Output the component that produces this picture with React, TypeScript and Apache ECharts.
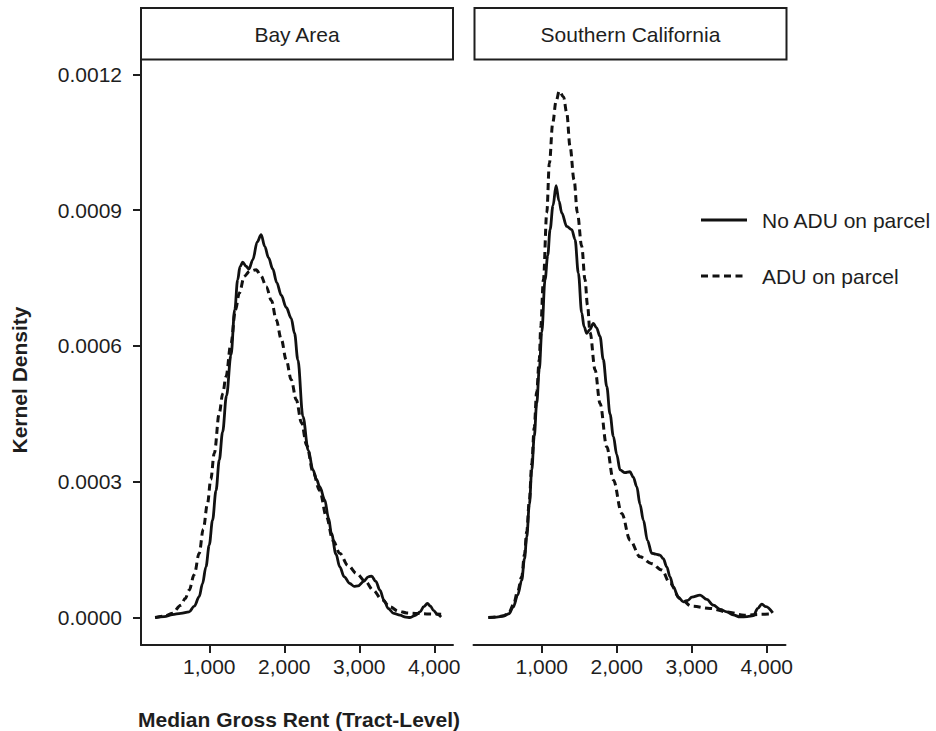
import React, { useEffect, useRef } from "react";
import * as echarts from "echarts";

const panels = ["Bay Area", "Southern California"];
const seriesNames = ["No ADU on parcel", "ADU on parcel"];
const xTicks = [1000, 2000, 3000, 4000];
const yTicks = [0, 0.0003, 0.0006, 0.0009, 0.0012];
const xTitle = "Median Gross Rent (Tract-Level)";
const yTitle = "Kernel Density";

// Bay Area, no ADU on parcel
const bayNoAdu: [number, number][] = [
  [277, 0], [400, 0.000002], [509, 0.0000066], [620, 0.000009], [732, 0.0000124],
  [800, 0.000025], [866, 0.000046], [910, 0.000075], [956, 0.000112], [1000, 0.00016],
  [1044, 0.000215], [1090, 0.00028], [1134, 0.000348], [1178, 0.00041], [1230, 0.00049],
  [1290, 0.00058], [1340, 0.00068], [1379, 0.000746], [1410, 0.000775], [1446, 0.000785],
  [1490, 0.000776], [1530, 0.00077], [1580, 0.00079], [1640, 0.00083], [1692, 0.000846],
  [1740, 0.00082], [1790, 0.000795], [1847, 0.00077], [1900, 0.00074], [1960, 0.000712],
  [2027, 0.000685], [2093, 0.000661], [2137, 0.000628], [2182, 0.000569], [2249, 0.000444],
  [2320, 0.00037], [2383, 0.000326], [2430, 0.000305], [2473, 0.000289], [2540, 0.00026],
  [2590, 0.00022], [2629, 0.000186], [2690, 0.00014], [2740, 0.000112], [2800, 0.00009],
  [2874, 0.0000752], [2930, 0.000069], [2985, 0.00007], [3060, 0.00008], [3120, 0.00009],
  [3164, 0.0000914], [3220, 0.00008], [3276, 0.0000604], [3330, 0.000038], [3387, 0.0000199],
  [3460, 0.000009], [3543, 0.0000051], [3620, 0.000001], [3677, 0], [3750, 0.000005],
  [3811, 0.0000124], [3860, 0.000024], [3909, 0.000031], [3950, 0.000025], [3989, 0.000016],
  [4040, 0.000007], [4092, 0.0000013],
];

// Bay Area, ADU on parcel
const bayAdu: [number, number][] = [
  [280, 0], [400, 0.000003], [509, 0.0000095], [621, 0.0000272], [680, 0.000042],
  [732, 0.0000604], [800, 0.000095], [866, 0.000142], [920, 0.000195], [977, 0.000252],
  [1020, 0.000305], [1067, 0.000363], [1134, 0.000452], [1180, 0.000495], [1223, 0.000532],
  [1290, 0.000606], [1350, 0.00068], [1401, 0.000717], [1468, 0.000754], [1540, 0.000765],
  [1625, 0.000768], [1690, 0.000755], [1759, 0.000731], [1830, 0.0007], [1893, 0.000658],
  [1960, 0.000615], [2027, 0.000569], [2093, 0.000525], [2160, 0.000481], [2230, 0.00043],
  [2300, 0.00038], [2383, 0.000322], [2473, 0.00028], [2562, 0.000223], [2650, 0.00017],
  [2740, 0.000142], [2850, 0.000115], [2964, 0.0000973], [3080, 0.00008], [3186, 0.0000604],
  [3300, 0.00004], [3410, 0.0000235], [3520, 0.000014], [3633, 0.0000102], [3750, 0.000009],
  [3900, 0.000008], [4092, 0.0000073],
];

// Southern California, no ADU on parcel
const socalNoAdu: [number, number][] = [
  [288, 0], [400, 0.000001], [488, 0.000003], [560, 0.000008], [621, 0.0000235],
  [680, 0.00005], [733, 0.0000825], [770, 0.00013], [800, 0.000178], [835, 0.00025],
  [867, 0.000326], [900, 0.0004], [933, 0.000473], [967, 0.000548], [1000, 0.00063],
  [1044, 0.000746], [1080, 0.0008], [1111, 0.000857], [1150, 0.00091], [1191, 0.000954],
  [1230, 0.00092], [1267, 0.000894], [1333, 0.000864], [1400, 0.000857], [1444, 0.000835],
  [1488, 0.000761], [1533, 0.000673], [1565, 0.000642], [1600, 0.000628], [1640, 0.000636],
  [1688, 0.00065], [1730, 0.00064], [1777, 0.000621], [1820, 0.00057], [1867, 0.00051],
  [1910, 0.00045], [1955, 0.0004], [2000, 0.00036], [2044, 0.000326], [2110, 0.00032],
  [2177, 0.000322], [2220, 0.00031], [2267, 0.000289], [2310, 0.00025], [2355, 0.000215],
  [2410, 0.00017], [2467, 0.000142], [2520, 0.00014], [2577, 0.000138], [2620, 0.00013],
  [2667, 0.000112], [2710, 0.00009], [2755, 0.0000677], [2820, 0.000045], [2888, 0.0000345],
  [2950, 0.000038], [3000, 0.000045], [3111, 0.0000493], [3200, 0.00004], [3288, 0.0000272],
  [3380, 0.000018], [3467, 0.0000124], [3550, 0.000006], [3644, 0.0000013], [3740, 0.000002],
  [3822, 0.000004], [3880, 0.00002], [3933, 0.0000294], [3990, 0.000024], [4080, 0.0000102],
];

// Southern California, ADU on parcel
const socalAdu: [number, number][] = [
  [288, 0], [400, 0.000001], [488, 0.000004], [560, 0.00001], [621, 0.000028],
  [680, 0.000058], [733, 0.00009], [770, 0.00014], [800, 0.00019], [835, 0.00026],
  [867, 0.00034], [900, 0.00042], [933, 0.0005], [967, 0.00057], [987, 0.000643],
  [1022, 0.000746], [1067, 0.000894], [1102, 0.001004], [1147, 0.001093], [1190, 0.00114],
  [1235, 0.001163], [1290, 0.00115], [1333, 0.001115], [1377, 0.001041], [1431, 0.000967],
  [1475, 0.000894], [1533, 0.00082], [1577, 0.000746], [1610, 0.00069], [1644, 0.00063],
  [1711, 0.000547], [1777, 0.000473], [1867, 0.000377], [1955, 0.000304], [2067, 0.00023],
  [2177, 0.000171], [2311, 0.000134], [2467, 0.000119], [2600, 0.000105], [2711, 0.0000752],
  [2844, 0.000042], [3000, 0.000025], [3244, 0.00002], [3467, 0.0000124], [3700, 0.000005],
  [3911, 0.000007], [4080, 0.000008],
];

const FONT = "'Liberation Sans', Arial, Helvetica, sans-serif";
const INK = "#1e1e1e";
const DASH = [7, 4.5];
const FS = 21;

export default function App() {
  const ref = useRef<HTMLDivElement>(null);

  useEffect(() => {
    if (!ref.current) return;
    const chart = echarts.init(ref.current, null, { renderer: "svg" });

    const xMin = 90;
    const xMax = 4250;
    const yMin = -0.0000607;
    const yMax = 0.0012316;
    const grids = [
      { left: 141, top: 60, width: 312, height: 585 },
      { left: 473.5, top: 60, width: 312, height: 585 },
    ];

    const xAxes = grids.map((_, i) => ({
      type: "value",
      gridIndex: i,
      min: xMin,
      max: xMax,
      axisLine: { show: true, onZero: false, lineStyle: { color: INK, width: 2 } },
      axisTick: { show: true, customValues: xTicks, length: 8, lineStyle: { color: INK, width: 2 } },
      axisLabel: {
        show: true,
        customValues: xTicks,
        formatter: (v: number) => v.toLocaleString("en-US"),
        fontSize: FS,
        fontFamily: FONT,
        color: INK,
        margin: 11,
      },
      splitLine: { show: false },
    }));

    const yAxes = grids.map((_, i) => ({
      type: "value",
      gridIndex: i,
      min: yMin,
      max: yMax,
      show: i === 0,
      axisLine: { show: true, onZero: false, lineStyle: { color: INK, width: 2 } },
      axisTick: { show: true, customValues: yTicks, length: 8, lineStyle: { color: INK, width: 2 } },
      axisLabel: {
        show: true,
        customValues: yTicks,
        formatter: (v: number) => v.toFixed(4),
        fontSize: FS,
        fontFamily: FONT,
        color: INK,
        margin: 19,
      },
      splitLine: { show: false },
    }));

    const mk = (name: string, data: [number, number][], idx: number, dashed: boolean) => ({
      name,
      type: "line",
      xAxisIndex: idx,
      yAxisIndex: idx,
      data,
      showSymbol: false,
      symbol: "none",
      smooth: 0.35,
      smoothMonotone: "x",
      lineStyle: { color: "#111", width: dashed ? 3 : 2.8, type: dashed ? DASH : "solid" },
      z: dashed ? 3 : 2,
    });

    const strip = (x: number, w: number, label: string) => ({
      type: "group",
      children: [
        {
          type: "rect",
          shape: { x, y: 8, width: w, height: 51.5 },
          style: { fill: "#fff", stroke: INK, lineWidth: 2 },
        },
        {
          type: "text",
          x: x + w / 2,
          y: 34,
          style: {
            text: label,
            fontSize: FS,
            fontFamily: FONT,
            fill: INK,
            align: "center",
            verticalAlign: "middle",
          },
        },
      ],
    });

    chart.setOption({
      animation: false,
      backgroundColor: "#fff",
      grid: grids,
      xAxis: xAxes,
      yAxis: yAxes,
      series: [
        mk(seriesNames[0], bayNoAdu, 0, false),
        mk(seriesNames[1], bayAdu, 0, true),
        mk(seriesNames[0], socalNoAdu, 1, false),
        mk(seriesNames[1], socalAdu, 1, true),
      ],
      graphic: [
        strip(141, 312, panels[0]),
        strip(474.5, 312, panels[1]),
        {
          type: "line",
          shape: { x1: 701, y1: 220, x2: 747, y2: 220 },
          style: { stroke: "#111", lineWidth: 2.8 },
        },
        {
          type: "text",
          x: 762,
          y: 220,
          style: { text: seriesNames[0], fontSize: FS, fontFamily: FONT, fill: INK, verticalAlign: "middle" },
        },
        {
          type: "line",
          shape: { x1: 701, y1: 276, x2: 747, y2: 276 },
          style: { stroke: "#111", lineWidth: 3, lineDash: DASH },
        },
        {
          type: "text",
          x: 762,
          y: 276,
          style: { text: seriesNames[1], fontSize: FS, fontFamily: FONT, fill: INK, verticalAlign: "middle" },
        },
        {
          type: "text",
          x: 299,
          y: 719,
          style: {
            text: xTitle,
            fontSize: FS,
            fontWeight: "bold",
            fontFamily: FONT,
            fill: INK,
            align: "center",
            verticalAlign: "middle",
          },
        },
        {
          type: "text",
          x: 19,
          y: 380,
          rotation: Math.PI / 2,
          style: {
            text: yTitle,
            fontSize: FS,
            fontWeight: "bold",
            fontFamily: FONT,
            fill: INK,
            align: "center",
            verticalAlign: "middle",
          },
        },
      ],
    });

    return () => chart.dispose();
  }, []);

  return (
    <div
      ref={ref}
      style={{ position: "fixed", left: 0, top: 0, width: 936, height: 731, background: "#fff" }}
    />
  );
}
